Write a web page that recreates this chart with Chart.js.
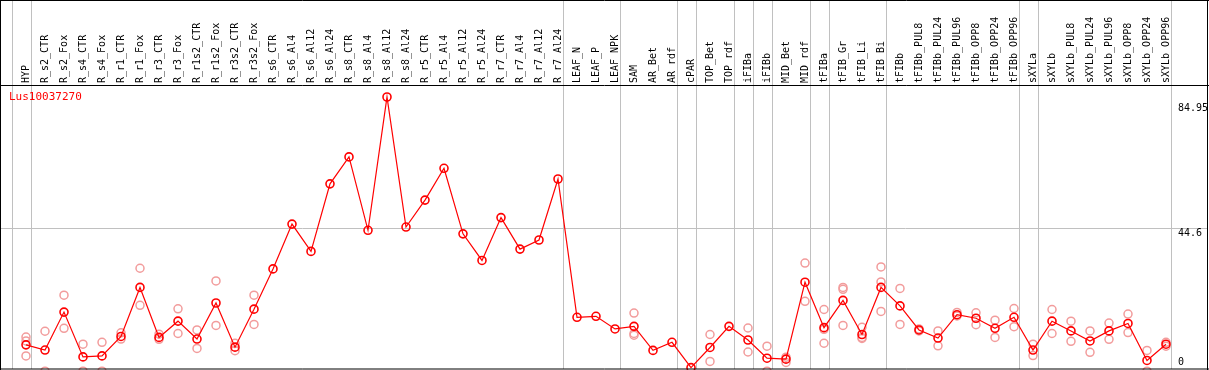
<!DOCTYPE html>
<html>
<head>
<meta charset="utf-8">
<script src="https://cdn.jsdelivr.net/npm/chart.js@4.4.0/dist/chart.umd.min.js"></script>
<style>
  html, body { margin: 0; padding: 0; background: #fff; }
  #wrap { width: 1209px; height: 370px; }
</style>
</head>
<body>
<div id="wrap"><canvas id="exprChart" width="1209" height="370"></canvas></div>
<script>
const geneName = 'Lus10037270';

const categories = [
  'HYP', 'R_s2_CTR', 'R_s2_Fox', 'R_s4_CTR', 'R_s4_Fox', 'R_r1_CTR', 'R_r1_Fox', 'R_r3_CTR', 'R_r3_Fox',
  'R_r1s2_CTR', 'R_r1s2_Fox', 'R_r3s2_CTR', 'R_r3s2_Fox', 'R_s6_CTR', 'R_s6_Al4', 'R_s6_Al12', 'R_s6_Al24',
  'R_s8_CTR', 'R_s8_Al4', 'R_s8_Al12', 'R_s8_Al24', 'R_r5_CTR', 'R_r5_Al4', 'R_r5_Al12', 'R_r5_Al24',
  'R_r7_CTR', 'R_r7_Al4', 'R_r7_Al12', 'R_r7_Al24', 'LEAF_N', 'LEAF_P', 'LEAF_NPK', 'SAM', 'AR_Bet', 'AR_rdf',
  'cPAR', 'TOP_Bet', 'TOP_rdf', 'iFIBa', 'iFIBb', 'MID_Bet', 'MID_rdf', 'tFIBa', 'tFIB_Gr', 'tFIB_Li', 'tFIB_Bi',
  'tFIBb', 'tFIBb_PUL8', 'tFIBb_PUL24', 'tFIBb_PUL96', 'tFIBb_OPP8', 'tFIBb_OPP24', 'tFIBb_OPP96', 'sXYLa',
  'sXYLb', 'sXYLb_PUL8', 'sXYLb_PUL24', 'sXYLb_PUL96', 'sXYLb_OPP8', 'sXYLb_OPP24', 'sXYLb_OPP96'
];

// mean expression (red line)
const meanValues = [
  8.6, 7.0, 18.7, 4.9, 5.2, 11.2, 26.3, 10.9, 15.9, 10.4, 21.5, 7.9, 19.6, 32.0, 45.8, 37.4, 58.2,
  66.5, 43.9, 84.95, 44.9, 53.2, 63.0, 42.8, 34.6, 47.8, 38.1, 40.9, 59.7, 17.1, 17.4, 13.5, 14.3,
  6.9, 9.4, 1.6, 7.8, 14.3, 10.1, 4.5, 4.2, 27.9, 13.9, 22.3, 11.8, 26.3, 20.6, 13.2, 10.7, 17.9,
  16.8, 13.7, 17.1, 7.0, 15.9, 12.9, 9.8, 12.9, 15.2, 3.8, 8.8
];

// replicates (pink circles), null where none is visible
const rep1 = [
  11.0, 12.8, 23.9, 8.8, 9.4, 12.3, 32.2, 11.9, 19.7, 13.2, 28.3, 9.1, 23.9, null, null, null, null,
  null, null, null, null, null, null, null, null, null, null, null, null, null, null, null, 18.4,
  null, null, null, 11.8, null, 13.8, 8.2, 4.8, 33.8, 19.5, 26.3, 14.0, 32.6, 26.0, 13.5, 12.9, 18.6,
  18.5, 16.2, 19.8, 8.8, 19.5, 15.9, 12.9, 15.3, 18.1, 6.9, 9.4
];
const rep2 = [
  9.8, 0.5, 13.7, 0.5, 0.5, 10.4, 20.8, 10.3, 12.1, 7.5, 14.6, 6.8, 14.9, null, null, null, null,
  null, null, null, null, null, null, null, null, null, null, null, null, null, null, null, 12.1,
  null, null, null, 3.5, null, 6.4, 0.5, 3.2, 22.0, 13.4, 25.7, 10.6, 28.0, 14.9, 12.9, 8.3, 17.5,
  14.8, 10.9, 14.2, 5.3, 12.1, 9.7, 6.3, 10.3, 12.4, 0.5, 8.2
];
const rep3 = [
  5.2, null, null, null, null, null, null, null, null, null, null, null, null, null, null, null, null,
  null, null, null, null, null, null, null, null, null, null, null, null, null, null, null, 11.6,
  null, null, null, null, null, null, null, null, null, 9.1, 14.6, 10.9, 18.9, null, null, null, null,
  null, null, null, null, null, null, null, null, null, null, null
];

// index of last category in each group (-1 = left edge)
const groupEnds = [-1, 0, 28, 31, 34, 35, 37, 38, 39, 41, 42, 45, 52, 53, 60];
const yTickValues = [0, 44.6, 84.95];
const yTickLabels = ['0', '44.6', '84.95'];

const monoFont = 'DejaVu Sans Mono';

const framePlugin = {
  id: 'frame',
  beforeDatasetsDraw(chart) {
    const { ctx, scales: { x, y } } = chart;
    ctx.save();
    ctx.strokeStyle = '#c0c0c0';
    ctx.lineWidth = 1;
    // group separators
    groupEnds.forEach(i => {
      const px = Math.round(x.getPixelForValue(i) + 4.5) + 0.5;
      ctx.beginPath();
      ctx.moveTo(px, 1);
      ctx.lineTo(px, 369);
      ctx.stroke();
    });
    // middle reference line
    const py = Math.round(y.getPixelForValue(yTickValues[1])) + 0.5;
    ctx.beginPath();
    ctx.moveTo(1, py);
    ctx.lineTo(1207, py);
    ctx.stroke();
    ctx.restore();
  },
  afterDraw(chart) {
    const { ctx, scales: { y }, chartArea } = chart;
    ctx.save();
    // frame and header line
    ctx.strokeStyle = '#000';
    ctx.lineWidth = 1;
    ctx.beginPath();
    ctx.moveTo(0.5, 0);
    ctx.lineTo(0.5, 370);
    ctx.moveTo(1207.5, 0);
    ctx.lineTo(1207.5, 370);
    ctx.moveTo(0, 0.5);
    ctx.lineTo(1209, 0.5);
    ctx.moveTo(0, 369);
    ctx.lineTo(1209, 369);
    ctx.moveTo(0, chartArea.top + 0.5);
    ctx.lineTo(1209, chartArea.top + 0.5);
    ctx.stroke();

    ctx.font = '10px "' + monoFont + '"';
    ctx.textBaseline = 'middle';
    ctx.textAlign = 'left';
    ctx.fillStyle = '#000';
    yTickValues.forEach((v, i) => {
      let py = y.getPixelForValue(v);
      if (i === 0) py = Math.min(py, 369) - 7;
      else if (i === 1) py += 5;
      else py += 11;
      ctx.fillText(yTickLabels[i], 1178, py);
    });

    ctx.fillStyle = '#ff0000';
    ctx.font = '11px "' + monoFont + '"';
    ctx.fillText(geneName, 9, chartArea.top + 12);
    ctx.restore();
  }
};

window.addEventListener('DOMContentLoaded', () => {
  const ctx = document.getElementById('exprChart').getContext('2d');

  const repStyle = {
    type: 'line',
    showLine: false,
    borderColor: '#f29c9c',
    backgroundColor: 'rgba(0,0,0,0)',
    pointRadius: 4,
    pointBorderWidth: 1.5,
    pointHoverRadius: 4
  };

  new Chart(ctx, {
    type: 'line',
    data: {
      labels: categories,
      datasets: [
        {
          label: geneName,
          data: meanValues,
          borderColor: '#ff0000',
          borderWidth: 1.2,
          backgroundColor: 'rgba(0,0,0,0)',
          pointRadius: 4,
          pointBorderWidth: 1.6,
          pointHoverRadius: 4,
          tension: 0
        },
        { ...repStyle, label: 'rep1', data: rep1 },
        { ...repStyle, label: 'rep2', data: rep2 },
        { ...repStyle, label: 'rep3', data: rep3 }
      ]
    },
    options: {
      responsive: false,
      animation: false,
      layout: {
        autoPadding: false,
        padding: { left: 16.5, right: 33.5, top: 0, bottom: 0 }
      },
      plugins: {
        legend: { display: false },
        tooltip: { enabled: false }
      },
      scales: {
        x: {
          position: 'top',
          offset: true,
          grid: { display: false, drawTicks: false },
          border: { display: false },
          ticks: {
            autoSkip: false,
            minRotation: 90,
            maxRotation: 90,
            padding: 2,
            labelOffset: 12,
            color: '#000',
            font: { family: monoFont, size: 10 }
          },
          afterFit: scale => { scale.height = 85; }
        },
        y: {
          display: false,
          min: 0.86,
          max: 88.65
        }
      }
    },
    plugins: [framePlugin]
  });
});
</script>
</body>
</html>
